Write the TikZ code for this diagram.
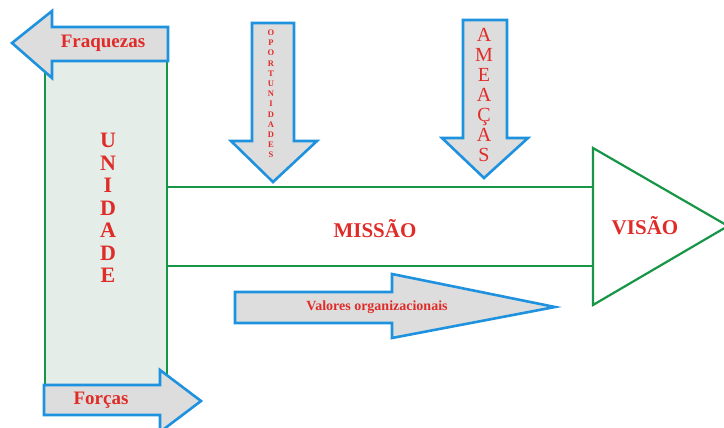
\documentclass[tikz,border=0pt]{standalone}
\usepackage{fontspec}
\setmainfont{Liberation Serif}
\definecolor{arrowfill}{RGB}{221,221,221}
\definecolor{arrowline}{RGB}{30,146,222}
\definecolor{bandgreen}{RGB}{22,150,70}
\definecolor{panelfill}{RGB}{228,237,232}
\definecolor{labelred}{RGB}{224,44,40}
\begin{document}
\begin{tikzpicture}[x=1pt,y=-1pt,
  blockarrow/.style={fill=arrowfill, draw=arrowline, line width=2.6pt, line join=miter},
  greenline/.style={draw=bandgreen, line width=2.2pt},
  lbl/.style={text=labelred, inner sep=0pt, align=center},
]
\useasboundingbox (0,0) rectangle (724,428);
\clip (0,0) rectangle (724,428);

% unit panel on the left
\path[greenline, fill=panelfill] (45,50) rectangle (167,400);

% mission band and vision head
\draw[greenline] (167,187) -- (593,187);
\draw[greenline] (167,266) -- (593,266);
\draw[greenline, line join=miter] (593,148) -- (728,226) -- (593,305) -- cycle;

% block arrows
\draw[blockarrow] (12,43) -- (52,11) -- (52,27) -- (168,27) -- (168,61) -- (52,61) -- (52,78) -- cycle;
\draw[blockarrow] (44,385) -- (160,385) -- (160,370) -- (201,401) -- (160,432) -- (160,415) -- (44,415) -- cycle;
\draw[blockarrow] (252,23) -- (294,23) -- (294,141) -- (317,141) -- (273,182) -- (231,141) -- (252,141) -- cycle;
\draw[blockarrow] (463,20) -- (507,20) -- (507,138) -- (528,138) -- (484,178) -- (442,138) -- (463,138) -- cycle;
\draw[blockarrow] (235,292) -- (392,292) -- (392,274) -- (555,307) -- (392,338) -- (392,323) -- (235,323) -- cycle;

% labels
\node[lbl, font=\bfseries\fontsize{19}{19}\selectfont] (fraq) at (103,43) {Fraquezas};
\node[lbl, font=\bfseries\fontsize{19}{19}\selectfont] (forc) at (101,400) {Forças};
\node[lbl, font=\bfseries\fontsize{22}{22.5}\selectfont] (unid) at (108,208) {U\\N\\I\\D\\A\\D\\E};
\node[lbl, font=\bfseries\fontsize{8.5}{10.2}\selectfont] (oport) at (271,94) {O\\P\\O\\R\\T\\U\\N\\I\\D\\A\\D\\E\\S};
\node[lbl, font=\fontsize{20}{20}\selectfont] (ameac) at (484,95) {A\\M\\E\\A\\Ç\\A\\S};
\node[lbl, font=\bfseries\fontsize{21}{21}\selectfont] (missao) at (375,229) {MISSÃO};
\node[lbl, font=\bfseries\fontsize{21}{21}\selectfont] (visao) at (645,226) {VISÃO};
\node[lbl, font=\bfseries\fontsize{14}{14}\selectfont] (valores) at (377,307) {Valores organizacionais};
\end{tikzpicture}
\end{document}
